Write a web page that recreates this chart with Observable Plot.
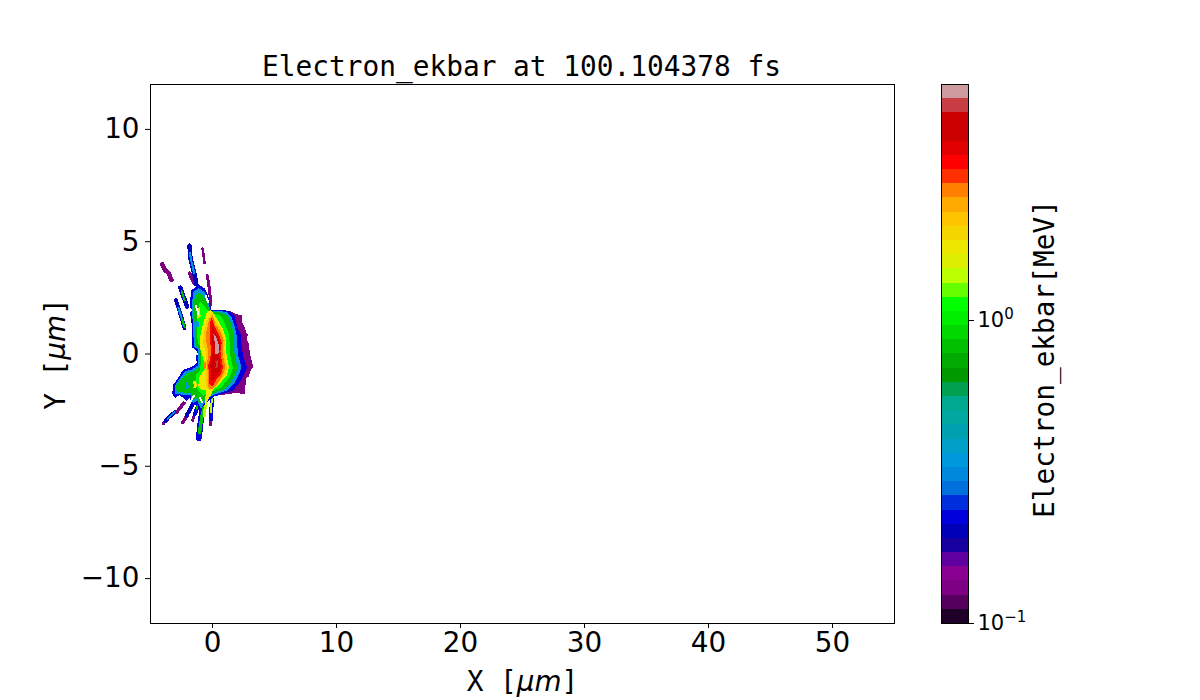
<!DOCTYPE html>
<html><head><meta charset="utf-8">
<script src="https://cdn.jsdelivr.net/npm/d3@7"></script>
<script src="https://cdn.jsdelivr.net/npm/@observablehq/plot@0.6"></script>
<style>
html,body{margin:0;background:#fff;width:1200px;height:700px;overflow:hidden}
#main,#bar,#title{position:absolute}
#main{left:0;top:0}
#bar{left:900px;top:0}
#title{left:150px;width:743px;top:52px;text-align:center;font:27.8px/1.1 "DejaVu Sans Mono",monospace;color:#000}
svg{background:transparent!important}
#main svg g[aria-label="x-axis tick label"] text,#main svg g[aria-label="y-axis tick label"] text{font-size:27.8px}
</style></head><body>
<div id="main"></div><div id="bar"></div>
<div id="title">Electron_ekbar at 100.104378 fs</div>
<script>
const xTicks = [0,10,20,30,40,50];
const yTicks = [-10,-5,0,5,10];
const barTicks = [0.1,1];
const barTickLabels = ["10\u207B\u00B9","10\u2070"];
const levelEdges = [0.1,0.1114,0.1241,0.1382,0.1539,0.1714,0.1909,0.2127,0.2369,0.2638,0.2939,0.3273,0.3646,0.4061,0.4523,0.5038,0.5611,0.6250,0.6961,0.7753,0.8636,0.9618,1.0713,1.1932,1.3290,1.4803,1.6487,1.8363,2.0453,2.2781,2.5374,2.8261,3.1477,3.5059,3.9049,4.3493,4.8443,5.3957,6.0098];
const levelColors = ["#1f0028","#55005f","#7d0085","#8a0090","#6000a0","#1800a0","#0000b8","#0000dd","#0030dd","#0070dd","#0088dd","#0098dd","#00a0c8","#00a0b0","#00a8a0","#00a890","#00a050","#009900","#00aa00","#00c000","#00d800","#00ee00","#00ff00","#66ff00","#bbff00","#ddee00","#eee800","#f5d500","#ffc400","#ffaa00","#ff8000","#ff3000","#ff0000","#e00000","#cc0000","#cc0000","#c83c44","#cc9a9f"];

// Thin filaments [energy (MeV), width, points in um]
const filaments = [
 [0.13,4.5,[[-4.05,4.0],[-3.85,3.75],[-3.55,3.6],[-3.3,3.3]]],
 [0.13,2.5,[[-0.8,4.7],[-0.72,4.4],[-0.65,4.05]]],
 [0.13,3,[[-0.42,3.5],[-0.25,2.9],[-0.12,2.2]]],
 [0.13,3.5,[[-1.85,3.6],[-1.6,3.25],[-1.4,3.1]]],
 [0.2,4.5,[[-1.85,4.83],[-1.78,4.25],[-1.45,3.55],[-1.3,3.1]]],
 [0.34,2,[[-1.82,4.5],[-1.72,4.15],[-1.48,3.6]]],
 [0.2,4.5,[[-2.6,2.95],[-2.3,2.5],[-2.05,2.1]]],
 [0.8,2,[[-2.5,2.8],[-2.25,2.4]]],
 [0.2,4,[[-2.95,2.4],[-2.65,1.9],[-2.25,1.15]]],
 [0.34,2,[[-2.75,2.05],[-2.55,1.7],[-2.3,1.25]]],
 [0.8,2,[[-2.45,1.55],[-2.25,1.2]]],
 [0.13,3,[[-3.95,-3.1],[-3.7,-2.92]]],
 [0.2,4,[[-3.8,-3.0],[-3.5,-2.8],[-3.05,-2.6]]],
 [0.34,2,[[-3.6,-2.88],[-3.1,-2.6]]],
 [0.13,3.5,[[-2.9,-2.6],[-2.55,-2.35],[-2.25,-2.15]]],
 [0.13,3.5,[[-2.4,-3.05],[-2.0,-2.7]]],
 [0.2,4,[[-2.1,-2.75],[-1.6,-2.25]]],
 [0.13,3,[[-1.6,-2.95],[-1.4,-2.6]]],
 [0.22,4,[[-1.45,-2.7],[-1.05,-2.15]]],
 [0.8,2,[[-1.3,-2.45],[-1.0,-2.1]]],
 [0.22,6,[[-1.1,-3.75],[-0.95,-3.0],[-0.75,-2.3]]],
 [0.8,3.5,[[-1.05,-3.5],[-0.9,-2.95],[-0.7,-2.3]]],
 [0.13,3,[[-0.15,-3.15],[-0.12,-2.75]]],
 [0.22,4,[[-0.12,-2.9],[-0.05,-2.0]]],
 [1.4,2,[[-0.12,-2.6],[-0.06,-2.0]]],
 [1.4,3,[[-0.65,-2.75],[-0.55,-2.1]]]
];
// Nested contour bands of the main body, in um
const purpleBand = [[0.2,1.95],[1.35,1.9],[1.9,1.75],[2.3,1.72],[2.35,1.4],[2.5,1.25],[2.65,1.0],[2.8,0.85],[2.72,0.65],[2.9,0.45],[2.95,0.15],[3.0,-0.05],[3.25,-0.58],[3.0,-0.75],[2.9,-1.0],[2.7,-1.05],[2.6,-1.45],[2.55,-1.75],[1.8,-1.72],[1.0,-1.78],[0.2,-1.85],[0,-1],[0,1]];
const blueBand = [[-0.08,1.94],[0.6,1.95],[1.3,1.9],[1.75,1.68],[1.95,1.2],[2.25,0.85],[2.3,0.4],[2.42,-0.1],[2.75,-0.6],[2.45,-0.95],[2.1,-1.3],[1.6,-1.62],[0.2,-1.85],[-0.2,-2.0],[-0.6,-2.2],[-0.85,-2.35],[-0.95,-2.6],[-1.2,-2.2],[-1.6,-2.3],[-1.8,-1.9],[-2.1,-2.05],[-2.4,-1.9],[-2.7,-1.8],[-3.0,-1.95],[-3.2,-1.75],[-3.15,-1.4],[-2.65,-1.0],[-2.35,-0.72],[-1.65,-0.6],[-1.22,-0.42],[-1.3,-0.1],[-1.22,0.15],[-1.58,0.3],[-1.6,0.6],[-1.6,1.18],[-1.78,1.85],[-1.45,1.94],[-1.78,2.07],[-1.7,2.83],[-1.05,3.05],[-0.65,2.9],[-0.32,2.5]];
const azureBand = [[-0.15,1.9],[0.5,1.9],[1.1,1.85],[1.5,1.65],[1.75,1.2],[1.9,0.85],[1.95,0.4],[2.05,-0.1],[2.3,-0.6],[2.05,-0.95],[1.7,-1.3],[1.2,-1.6],[0.2,-1.78],[-0.25,-1.9],[-0.6,-2.1],[-0.95,-2.4],[-1.2,-2.05],[-1.55,-2.15],[-1.75,-1.8],[-2.35,-1.8],[-2.95,-1.75],[-3.0,-1.42],[-2.55,-1.05],[-2.2,-0.8],[-1.6,-0.7],[-1.1,-0.5],[-1.15,-0.1],[-1.1,0.2],[-1.45,0.35],[-1.5,0.85],[-1.5,1.2],[-1.62,1.8],[-1.55,2.75],[-1.1,2.9],[-0.7,2.75],[-0.38,2.4]];
const greenBand = [[-0.2,1.9],[0.9,1.8],[1.3,1.6],[1.55,1.2],[1.65,0.85],[1.7,0.4],[1.75,-0.1],[2.0,-0.6],[1.75,-0.95],[1.4,-1.3],[0.9,-1.55],[0.2,-1.7],[-0.3,-1.85],[-0.65,-2.0],[-1.05,-2.2],[-1.2,-1.9],[-1.5,-2.0],[-1.7,-1.7],[-2.3,-1.7],[-2.85,-1.65],[-2.9,-1.42],[-2.45,-1.1],[-2.1,-0.9],[-1.55,-0.8],[-1.0,-0.6],[-1.05,-0.1],[-1.0,0.25],[-1.35,0.4],[-1.4,0.9],[-1.35,1.2],[-1.5,1.75],[-1.4,2.55],[-1.1,2.72],[-0.75,2.55],[-0.45,2.3]];
const brightBand = [[-0.2,1.85],[0.7,1.65],[1.0,1.3],[1.3,0.85],[1.35,0.4],[1.4,-0.1],[1.6,-0.6],[1.4,-0.95],[1.1,-1.2],[0.6,-1.5],[0.1,-1.6],[-0.4,-1.75],[-0.75,-1.85],[-1.2,-1.55],[-1.35,-1.3],[-1.3,-0.95],[-0.95,-0.75],[-0.85,0.3],[-1.15,0.5],[-1.2,1.0],[-1.25,1.5],[-1.0,2.3],[-0.7,2.15]];
const yellowBand = [[-0.15,1.95],[0.4,1.5],[0.8,1.1],[1.05,0.7],[1.05,0.3],[1.1,-0.1],[1.3,-0.6],[1.1,-0.95],[0.8,-1.15],[0.4,-1.4],[0,-1.55],[-0.1,-1.75],[-0.35,-2.0],[-0.55,-2.2],[-0.5,-1.6],[-0.9,-1.6],[-1.1,-1.4],[-1.0,-1.0],[-0.6,-0.7],[-0.7,-0.2],[-1.0,0.3],[-0.95,0.8],[-0.75,1.3],[-0.4,1.9]];
const goldBand = [[-0.1,1.8],[0.25,1.4],[0.7,1.05],[0.95,0.65],[0.92,0.25],[0.97,-0.15],[1.15,-0.6],[0.95,-0.92],[0.65,-1.15],[0.25,-1.4],[-0.2,-1.6],[-0.5,-1.45],[-0.45,-0.9],[-0.5,-0.45],[-0.5,0.1],[-0.7,0.5],[-0.65,1.0],[-0.3,1.6]];
const orangeBand = [[0,1.7],[0.2,1.3],[0.6,1.0],[0.85,0.6],[0.8,0.2],[0.85,-0.2],[1.0,-0.6],[0.8,-0.9],[0.5,-1.2],[0.1,-1.5],[-0.2,-1.55],[-0.35,-1.4],[-0.3,-1.0],[-0.4,-0.5],[-0.3,0.1],[-0.45,0.5],[-0.45,1.0],[-0.2,1.6]];
const redBand = [[-0.1,1.6],[0.15,1.2],[0.5,0.85],[0.7,0.5],[0.6,0.1],[0.7,-0.3],[0.8,-0.6],[0.7,-0.85],[0.3,-1.1],[0,-1.4],[-0.2,-1.35],[-0.25,-0.9],[-0.3,-0.5],[-0.15,-0.2],[-0.05,0.2],[-0.2,0.6],[-0.15,1.0],[-0.2,1.4]];
const darkRedBand = [[-0.05,1.25],[0.2,0.95],[0.6,0.5],[0.5,0.05],[0.55,-0.35],[0.65,-0.6],[0.45,-0.85],[0.1,-1.1],[-0.1,-1.15],[-0.1,-0.7],[-0.15,-0.5],[0,-0.15],[0.08,0.2],[-0.05,0.7]];
const paleBand = [[0.1,0.85],[0.28,0.72],[0.48,0.4],[0.45,0.05],[0.28,0.02],[0.2,0.45]];
// Small specks inside the fan
const specks = [
 [1.75,[[-1.3,2.0],[-1.05,2.05],[-1.0,1.7],[-1.25,1.6]]],
 [0.34,[[-1.3,1.45],[-1.1,1.4],[-1.15,1.2],[-1.3,1.25]]],
 [1.75,[[-1.55,-1.25],[-1.35,-1.2],[-1.3,-1.45],[-1.5,-1.5]]],
 [0.34,[[-2.2,-1.3],[-2.0,-1.25],[-1.95,-1.5],[-2.15,-1.55]]],
 [2.7,[[-0.75,-0.4],[-0.6,-0.35],[-0.55,-0.6],[-0.7,-0.65]]],
 [5.0,[[0.25,-0.35],[0.4,-0.3],[0.42,-0.55],[0.28,-0.6]]]
];
const slits = [[[-1.35,2.15],[-1.15,1.8]],[[-2.55,-1.95],[-2.2,-2.1]],[[-1.75,-2.1],[-1.5,-1.85]],[[-0.55,2.6],[-0.35,2.3]],[[-1.0,-1.95],[-0.85,-2.15]],[[-1.6,0.15],[-1.25,0.0]]];

const layers = [[0.13,purpleBand],[0.22,blueBand],[0.34,azureBand],[0.8,greenBand],[1.1,brightBand],[1.75,yellowBand],[2.2,goldBand],[2.7,orangeBand],[3.3,redBand],[4.1,darkRedBand],[5.7,paleBand]];
const colorScale = {type:"threshold",domain:levelEdges.slice(1,-1),range:levelColors};
const px = d=>d[0], py = d=>d[1];
const crisp = {shapeRendering:"crispEdges"};

const marks = [Plot.frame({stroke:"#000",strokeWidth:1})];
filaments.forEach(([v,w,pts])=>marks.push(Plot.line(pts,{x:px,y:py,stroke:()=>v,strokeWidth:w,...crisp})));
layers.concat(specks).forEach(([v,pts])=>marks.push(Plot.line(pts,{x:px,y:py,fill:()=>v,stroke:()=>v,strokeWidth:1,...crisp})));
slits.forEach(pts=>marks.push(Plot.line(pts,{x:px,y:py,stroke:"#fff",strokeWidth:2,...crisp})));

const main = Plot.plot({
  width:1200,height:700,marginLeft:150,marginRight:306,marginTop:84,marginBottom:77,
  style:{fontFamily:"DejaVu Sans",fontSize:"27.8px",color:"#000",background:"transparent"},
  x:{domain:[-5,55]},y:{domain:[-12,12]},color:colorScale,
  marks:[
    Plot.axisX({ticks:xTicks,tickSize:5,tickPadding:4,fontSize:27.8,label:"X [μm]",labelAnchor:"center",labelArrow:"none",labelOffset:67,anchor:"bottom"}),
    Plot.axisY({ticks:yTicks,tickSize:5,tickPadding:6,fontSize:27.8,label:"Y [μm]",labelAnchor:"center",labelArrow:"none",labelOffset:105,anchor:"left",tickFormat:d=>String(d).replace("-","\u2212")}),
    ...marks
  ]
});
document.getElementById("main").append(main);

const bands = levelColors.map((c,i)=>({lo:levelEdges[i],hi:levelEdges[i+1]}));
const bar = Plot.plot({
  width:300,height:700,marginLeft:41,marginRight:232,marginTop:84,marginBottom:77,
  style:{fontFamily:"DejaVu Sans",fontSize:"21px",color:"#000",background:"transparent"},
  y:{type:"log",domain:[0.1,6.0098]},color:colorScale,
  marks:[
    Plot.rect(bands,{y1:"lo",y2:"hi",fill:"lo",...crisp}),
    Plot.frame({stroke:"#000",strokeWidth:1}),
    Plot.axisY({anchor:"right",ticks:barTicks,tickSize:5,tickPadding:4,fontSize:21,label:"Electron_ekbar[MeV]",labelAnchor:"center",labelArrow:"none",labelOffset:85,tickFormat:d=>barTickLabels[barTicks.indexOf(d)]})
  ]
});
document.getElementById("bar").append(bar);

const SVGNS="http://www.w3.org/2000/svg";
document.querySelectorAll("svg text").forEach(t=>{
  const s=t.textContent;
  if(s==="Electron_ekbar[MeV]"){t.style.fontFamily='"DejaVu Sans Mono"';t.style.fontSize="27.8px";t.setAttribute("dx","-5");}
  if(s==="X [μm]"||s==="Y [μm]"){
    t.style.fontFamily='"DejaVu Sans Mono"';t.style.fontSize="27.8px";
    const ts=t.querySelector("tspan")||t;
    ts.textContent=s[0]+" [";
    const it=document.createElementNS(SVGNS,"tspan");
    it.setAttribute("font-style","italic");it.setAttribute("font-family","DejaVu Sans");it.textContent="μm";
    const e=document.createElementNS(SVGNS,"tspan");e.textContent="]";
    ts.append(it,e);
  }
  if(barTickLabels.includes(s)){
    const ts=t.querySelector("tspan")||t;
    const sup=s==="10\u2070"?"0":"\u22121";
    ts.textContent="10";
    const u=document.createElementNS(SVGNS,"tspan");
    u.setAttribute("font-size","15");u.setAttribute("dy","-8");u.textContent=sup;
    ts.append(u);
  }
});
</script>
</body></html>
